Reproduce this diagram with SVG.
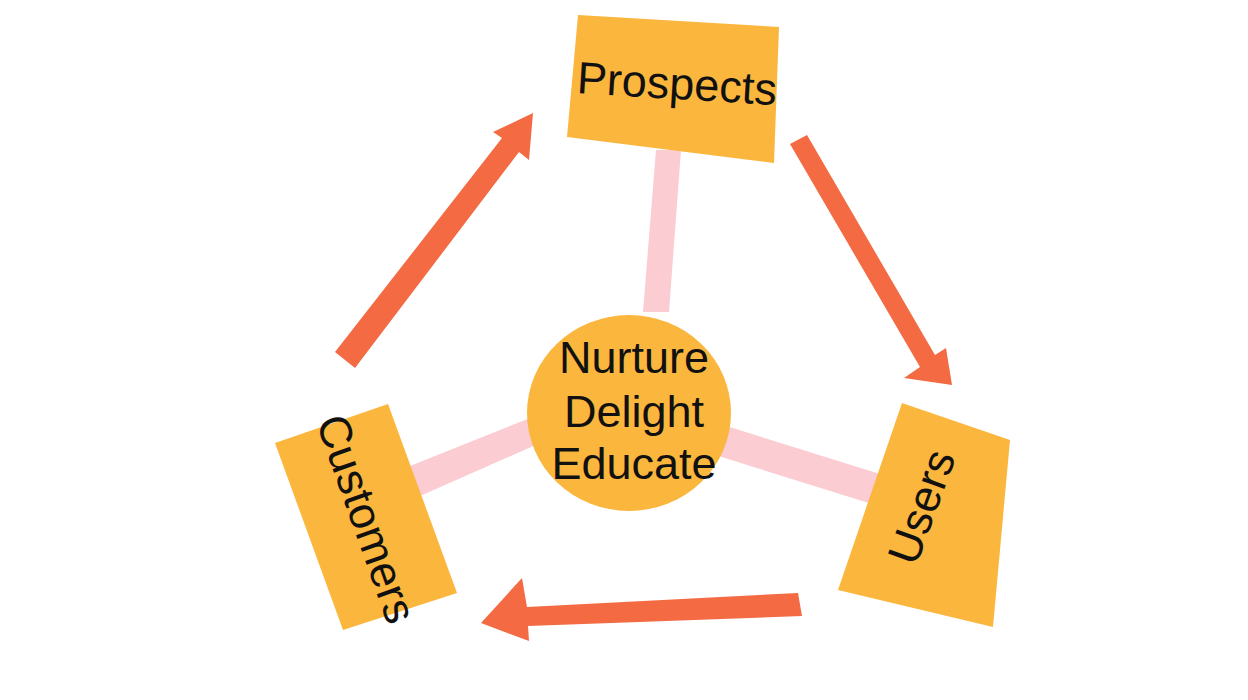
<svg xmlns="http://www.w3.org/2000/svg" width="1248" height="700" viewBox="0 0 1248 700">
<style>
.paper{fill:#FBB63D;}
.bar{fill:#FBCCD2;}
.arrow{fill:#F36A43;}
.lbl{font-family:"Liberation Sans",Arial,sans-serif;font-size:45px;fill:#111;}
</style>
<rect width="1248" height="700" fill="#FFFFFF"/>
<g id="connectors">
<polygon class="bar" points="656,150 681,150 669,312 643,312"/>
<polygon class="bar" points="410,466 530,418 540,443 420,496"/>
<polygon class="bar" points="720,424 880,474 872,504 712,454"/>
<polygon id="arrow-customers-prospects" class="arrow" points="335,352 502,138 493,132 533,113 529,160 519,152 355,368"/>
<polygon id="arrow-prospects-users" class="arrow" points="790,144 807,135 935,355 946,348 952,385 904,378 920,367"/>
<polygon id="arrow-users-customers" class="arrow" points="798,593 527,607 522,578 481,623 529,641 528,626 802,616"/>
</g>
<g id="center">
<ellipse class="paper" cx="629" cy="413" rx="102" ry="98"/>
<text class="lbl" x="634" y="373" text-anchor="middle">Nurture</text>
<text class="lbl" x="634" y="427" text-anchor="middle">Delight</text>
<text class="lbl" x="634" y="479" text-anchor="middle">Educate</text>
</g>
<g id="prospects">
<polygon class="paper" points="578,15 779,27 774,163 567,137"/>
<text class="lbl" transform="translate(676,99) rotate(3.5)" text-anchor="middle">Prospects</text>
</g>
<g id="customers">
<polygon class="paper" points="275,443 388,404 457,593 343,630"/>
<text class="lbl" transform="translate(352,524) rotate(70.5)" text-anchor="middle">Customers</text>
</g>
<g id="users">
<polygon class="paper" points="902,403 1010,440 993,627 838,590"/>
<text class="lbl" transform="translate(936,512) rotate(-70)" text-anchor="middle">Users</text>
</g>
</svg>
